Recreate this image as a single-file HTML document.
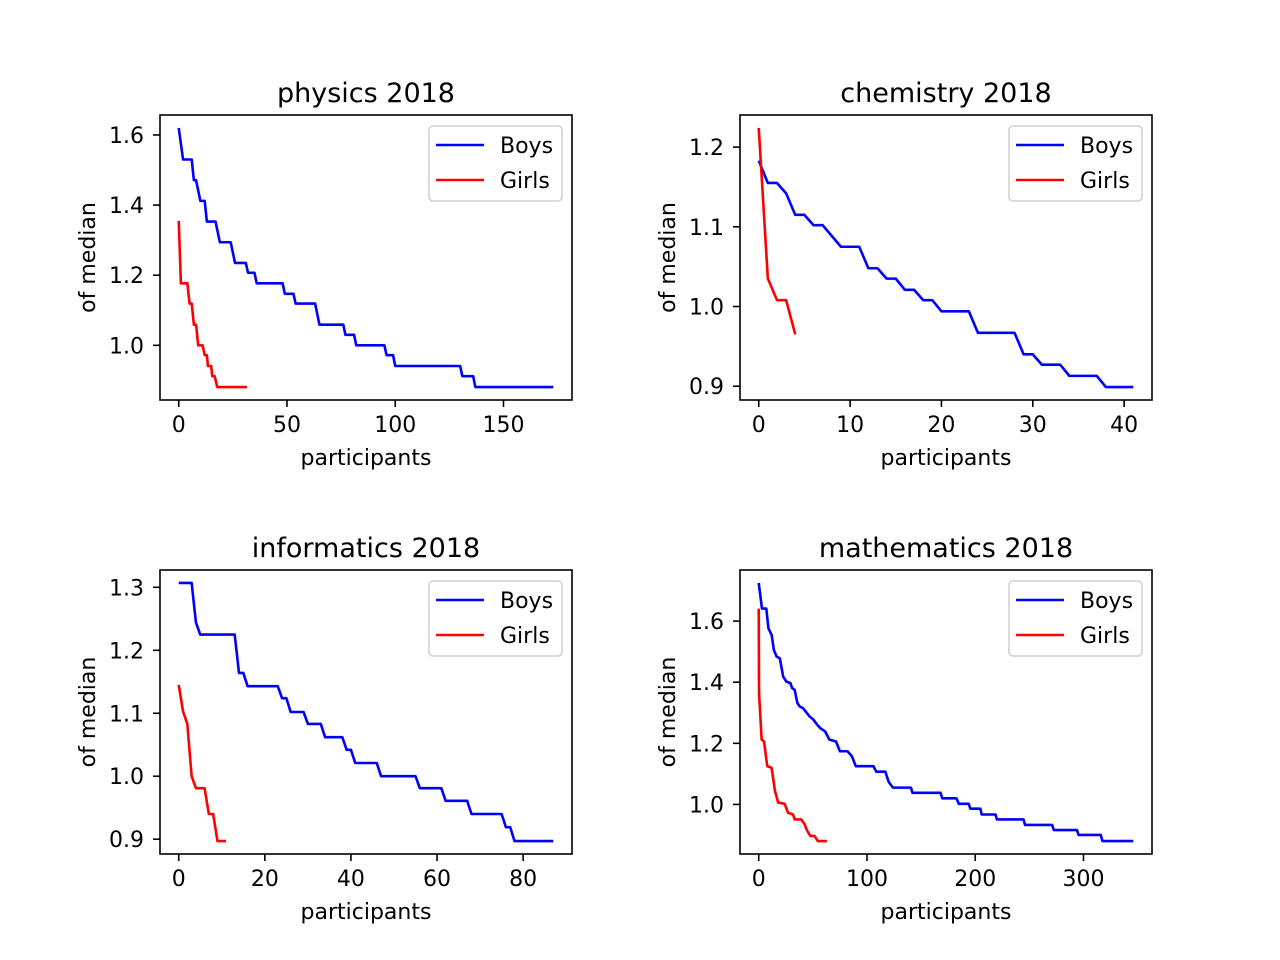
<!DOCTYPE html>
<html><head><meta charset="utf-8"><style>
html,body{margin:0;padding:0;background:#fff;}
svg{display:block;font-family:"DejaVu Sans","Liberation Sans",sans-serif;}
</style></head><body>
<svg id="fig" width="1280" height="960" viewBox="0 0 1280 960" xmlns="http://www.w3.org/2000/svg"></svg>
<script>
// physics 2018
const physicsBoysX=[0,2,6,7,8,10,12,13,17,19,24,26,31,32,35,36,48,49,53,54,63,65,76,77,81,82,95,96,99,100,130,131,136,137,173];
const physicsBoysY=[1.62,1.53,1.53,1.471,1.471,1.412,1.412,1.353,1.353,1.294,1.294,1.235,1.235,1.207,1.207,1.177,1.177,1.147,1.147,1.119,1.119,1.059,1.059,1.03,1.03,1.0,1.0,0.972,0.972,0.941,0.941,0.912,0.912,0.881,0.881];
const physicsGirlsX=[0,1,4,5,6,7,8,9,11,12,13,13.5,15,15.5,16.6,17.8,31.5];
const physicsGirlsY=[1.355,1.177,1.177,1.119,1.119,1.059,1.059,1.0,1.0,0.972,0.972,0.941,0.941,0.912,0.912,0.881,0.881];
const physicsXTicks=[0,50,100,150];
const physicsYTicks=[1.0,1.2,1.4,1.6];
// chemistry 2018
const chemBoysX=[0,1,2,3,4,5,6,7,9,11,12,13,14,15,16,17,18,19,20,23,24,28,29,30,31,33,34,37,38,41];
const chemBoysY=[1.183,1.155,1.155,1.142,1.115,1.115,1.102,1.102,1.075,1.075,1.048,1.048,1.035,1.035,1.021,1.021,1.008,1.008,0.994,0.994,0.967,0.967,0.94,0.94,0.927,0.927,0.913,0.913,0.899,0.899];
const chemGirlsX=[0,1,2,3,4];
const chemGirlsY=[1.224,1.035,1.008,1.008,0.965];
const chemXTicks=[0,10,20,30,40];
const chemYTicks=[0.9,1.0,1.1,1.2];
// informatics 2018
const infBoysX=[0,3,4,5,13,14,15,16,23,24,25,26,29,30,33,34,38,39,40,41,46,47,55,56,61,62,67,68,75,76,77,78,87];
const infBoysY=[1.307,1.307,1.244,1.225,1.225,1.164,1.164,1.143,1.143,1.124,1.124,1.102,1.102,1.083,1.083,1.062,1.062,1.042,1.042,1.021,1.021,1.0,1.0,0.981,0.981,0.961,0.961,0.94,0.94,0.919,0.919,0.897,0.897];
const infGirlsX=[0,1,2,3,4,6,7,8,9,11];
const infGirlsY=[1.145,1.103,1.083,1.0,0.981,0.981,0.94,0.94,0.897,0.897];
const infXTicks=[0,20,40,60,80];
const infYTicks=[0.9,1.0,1.1,1.2,1.3];
// mathematics 2018
const mathBoysX=[0,3,7,9,12,14,16.5,19.5,22.6,25.6,29.3,30.8,33.2,35.7,37.8,40.9,44.5,47,50.6,54,56.7,61.3,65.3,71.4,75,82,86,89.7,106,108.6,117,120,124,140.6,142,168,169.5,182.7,184.8,194,195.5,204.7,206,218.7,220,244.6,246,271,272.6,294,295.5,316,317.5,346];
const mathBoysY=[1.725,1.641,1.641,1.576,1.554,1.505,1.484,1.478,1.418,1.402,1.397,1.381,1.375,1.332,1.321,1.315,1.299,1.288,1.277,1.261,1.25,1.239,1.212,1.206,1.174,1.174,1.158,1.125,1.125,1.107,1.107,1.074,1.055,1.055,1.038,1.038,1.02,1.02,1.002,1.002,0.986,0.986,0.967,0.967,0.951,0.951,0.933,0.933,0.916,0.916,0.9,0.9,0.88,0.88];
const mathGirlsX=[0,0.3,2.7,4.9,7.9,11.9,15,18,24,27,31.7,33.2,39.3,42.4,44.5,47.6,51.5,54.6,63];
const mathGirlsY=[1.641,1.364,1.212,1.206,1.125,1.12,1.044,1.006,1.002,0.973,0.967,0.951,0.951,0.935,0.916,0.897,0.897,0.88,0.88];
const mathXTicks=[0,100,200,300];
const mathYTicks=[1.0,1.2,1.4,1.6];

const NS="http://www.w3.org/2000/svg";
const fig=document.getElementById('fig');
function mk(tag,attrs,parent,text){const e=document.createElementNS(NS,tag);for(const k in attrs)e.setAttribute(k,attrs[k]);if(text!==undefined)e.textContent=text;(parent||fig).appendChild(e);return e;}

function drawPanel(key,title,box,bx,by,gx,gy,xt,yt){
  const g=mk('g',{});
  
  
  const allX=bx.concat(gx),allY=by.concat(gy);
  let x0=Math.min(...allX),x1=Math.max(...allX),y0=Math.min(...allY),y1=Math.max(...allY);
  const mx=(x1-x0)*0.05,my=(y1-y0)*0.05;x0-=mx;x1+=mx;y0-=my;y1+=my;
  const X=v=>box.l+(v-x0)/(x1-x0)*(box.r-box.l);
  const Y=v=>box.b-(v-y0)/(y1-y0)*(box.b-box.t);
  function series(xs,ys,color,name){
    const p=xs.map((v,i)=>X(v).toFixed(2)+','+Y(ys[i]).toFixed(2)).join(' ');
    const l=mk('polyline',{points:p,fill:'none',stroke:color,'stroke-width':2.6,'stroke-linejoin':'round'},g);
    
    
  }
  series(bx,by,'#0000ff','boys');
  series(gx,gy,'#ff0000','girls');
  const f=mk('rect',{x:box.l,y:box.t,width:box.r-box.l,height:box.b-box.t,fill:'none',stroke:'#000','stroke-width':1.6},g);
  
  
  xt.forEach(v=>{const x=X(v);
    mk('line',{x1:x,y1:box.b,x2:x,y2:box.b+7,stroke:'#000','stroke-width':1.6},g);
    const t=mk('text',{x:x,y:box.b+32,'font-size':22,'text-anchor':'middle',fill:'#000'},g,String(v));
    
    
  });
  yt.forEach(v=>{const y=Y(v);
    mk('line',{x1:box.l-7,y1:y,x2:box.l,y2:y,stroke:'#000','stroke-width':1.6},g);
    const t=mk('text',{x:box.l-16,y:y+8,'font-size':22,'text-anchor':'end',fill:'#000'},g,v.toFixed(1));
    
    
  });
  const cx=(box.l+box.r)/2;
  const tt=mk('text',{x:cx,y:box.t-13,'font-size':27,'text-anchor':'middle',fill:'#000'},g,title);
  
  
  const xl=mk('text',{x:cx,y:box.b+65,'font-size':22,'text-anchor':'middle',fill:'#000'},g,'participants');
  
  
  const ly=(box.t+box.b)/2;
  const yl=mk('text',{x:box.l-65,y:ly,'font-size':22,'text-anchor':'middle',fill:'#000',transform:'rotate(-90 '+(box.l-65)+' '+ly+')'},g,'of median');
  
  
  const lg=mk('g',{},g);
  
  
  const lx=box.r-143,ly0=box.t+11;
  mk('rect',{x:lx,y:ly0,width:133,height:75,rx:4,fill:'#fff',stroke:'#d0d0d0','stroke-width':1.6},lg);
  [['Boys','#0000ff',19],['Girls','#ff0000',54]].forEach(([n,c,dy])=>{
    mk('line',{x1:lx+7,y1:ly0+dy,x2:lx+55,y2:ly0+dy,stroke:c,'stroke-width':2.6},lg);
    const t=mk('text',{x:lx+71,y:ly0+dy+8,'font-size':22,fill:'#000'},lg,n);
    
    
  });
}
drawPanel('physics','physics 2018',{l:160,r:572,t:115,b:400},physicsBoysX,physicsBoysY,physicsGirlsX,physicsGirlsY,physicsXTicks,physicsYTicks);
drawPanel('chemistry','chemistry 2018',{l:740,r:1152,t:115,b:400},chemBoysX,chemBoysY,chemGirlsX,chemGirlsY,chemXTicks,chemYTicks);
drawPanel('informatics','informatics 2018',{l:160,r:572,t:570,b:854},infBoysX,infBoysY,infGirlsX,infGirlsY,infXTicks,infYTicks);
drawPanel('mathematics','mathematics 2018',{l:740,r:1152,t:570,b:854},mathBoysX,mathBoysY,mathGirlsX,mathGirlsY,mathXTicks,mathYTicks);
</script>
</body></html>
